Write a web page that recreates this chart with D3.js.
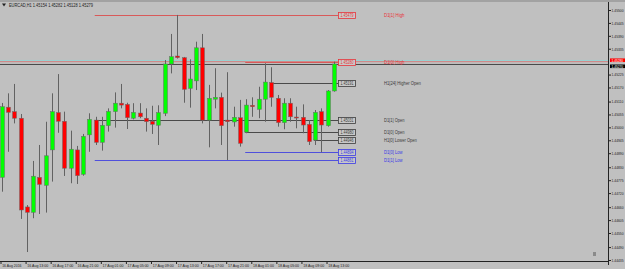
<!DOCTYPE html>
<html>
<head>
<meta charset="utf-8">
<script src="https://cdn.jsdelivr.net/npm/d3@7"></script>
<style>
body {margin:0; background:#c0c0c0;}
svg {display:block; font-family:"Liberation Sans", Arial, sans-serif;}
</style>
</head>
<body>
<div id="chart"></div>
<script>
//window size and plot box (price axis on the right, time axis at the bottom)
var W = 625, H = 269;
var plot = {l: 0, r: 608, t: 2, b: 261};

var title = "EURCAD,H1  1.45154 1.45282 1.45128 1.45279";

//H1 candles, 16 Aug 09:00 -> 18 Aug 14:00
var opens  = [1.44787,1.45086,1.45067,1.45039,1.44661,1.44638,1.44787,1.44753,1.44904,1.45063,
              1.45026,1.44826,1.44904,1.44800,1.44968,1.45031,1.44936,1.45007,1.45067,1.45103,
              1.45098,1.45039,1.45061,1.45039,1.45026,1.45009,1.45060,1.45270,1.45304,1.45297,
              1.45166,1.45198,1.45339,1.45031,1.45120,1.45128,1.45031,1.45023,1.45041,1.44980,
              1.45094,1.45077,1.45120,1.45191,1.45124,1.45020,1.45103,1.45044,1.45043,1.45013,
              1.44946,1.45067,1.45007,1.45155];
var highs  = [1.45104,1.45145,1.45185,1.45057,1.44669,1.44857,1.44925,1.45024,1.45145,1.45227,
              1.45067,1.44986,1.44921,1.44972,1.45060,1.45045,1.45045,1.45081,1.45149,1.45185,
              1.45105,1.45103,1.45103,1.45081,1.45092,1.45094,1.45287,1.45398,1.45479,1.45300,
              1.45290,1.45365,1.45398,1.45181,1.45252,1.45148,1.45235,1.45088,1.45117,1.45120,
              1.45128,1.45173,1.45273,1.45256,1.45138,1.45124,1.45124,1.45088,1.45098,1.45031,
              1.45074,1.45081,1.45159,1.45280];
var lows   = [1.44726,1.44896,1.45017,1.44610,1.44469,1.44613,1.44631,1.44637,1.44769,1.44977,
              1.44793,1.44762,1.44759,1.44794,1.44896,1.44925,1.44901,1.44982,1.44999,1.45081,
              1.44993,1.45034,1.45039,1.44982,1.44972,1.44925,1.45048,1.45230,1.45293,1.45105,
              1.45084,1.45159,1.45017,1.44915,1.45081,1.44925,1.44861,1.45003,1.44918,1.44975,
              1.45045,1.45039,1.45024,1.45088,1.45003,1.44992,1.45024,1.44996,1.44975,1.44925,
              1.44925,1.44894,1.45003,1.45152];
var closes = [1.45088,1.45064,1.45039,1.44648,1.44638,1.44792,1.44757,1.44879,1.45067,1.45026,
              1.44826,1.44907,1.44794,1.44962,1.45034,1.44936,1.45009,1.45068,1.45103,1.45095,
              1.45041,1.45064,1.45045,1.45024,1.45013,1.45063,1.45270,1.45301,1.45297,1.45162,
              1.45206,1.45339,1.45031,1.45124,1.45128,1.45007,1.45024,1.45043,1.44932,1.45095,
              1.45088,1.45120,1.45193,1.45128,1.45020,1.45103,1.45045,1.45042,1.45010,1.44939,
              1.45064,1.45010,1.45155,1.45270];

//time axis: one label every 4 bars
var timeLabels = ["16 Aug 2016","16 Aug 13:00","16 Aug 17:00","16 Aug 21:00","17 Aug 01:00",
                  "17 Aug 05:00","17 Aug 09:00","17 Aug 13:00","17 Aug 17:00","17 Aug 21:00",
                  "18 Aug 01:00","18 Aug 05:00","18 Aug 09:00","18 Aug 13:00"];

var priceTicks = [1.45500,1.45445,1.45390,1.45335,1.45225,1.45170,1.45110,1.45055,1.45000,
                  1.44945,1.44890,1.44830,1.44775,1.44720,1.44660,1.44605,1.44550,1.44490,1.44435];

//indicator levels
var levelNames  = ["D1[1] High","D1[0] High","H1[24] Higher Open","D1[1] Open","D1[0] Open",
                   "H1[0] Lower Open","D1[0] Low","D1[1] Low"];
var levelValues = [1.45479,1.45280,1.45191,1.45031,1.44980,1.44946,1.44894,1.44861];
var levelKinds  = ["high","high","open","open","open","open","low","low"];
var levelFrom   = [15,39,43,15,39,50,39,15];   //bar index where the level line starts

var kindColor = {high:"#e8343a", open:"#3c3c3c", low:"#3a3ae6"};
var kindLine  = {high:"#d85a5a", open:"#4a4a4a", low:"#5050dc"};

//the terminal font is much narrower than Liberation, so squeeze by char count
function squeeze(sel, perChar) {
    sel.attr("textLength", function(){ return this.textContent.length * perChar; })
       .attr("lengthAdjust", "spacingAndGlyphs");
}

var svg = d3.select("#chart").append("svg")
    .attr("width", W)
    .attr("height", H);

svg.append("rect").attr("width", W).attr("height", H).attr("fill", "#c0c0c0");
svg.append("rect").attr("width", W).attr("height", 2).attr("fill", "#a2a2a2");

var x = d3.scaleLinear().domain([0, opens.length - 1]).range([1.7, 334]);
var y = d3.scaleLinear().domain([1.44435, 1.45500]).range([260, 10]);

var bars = d3.range(opens.length).map(function(i){
    return {i: i, o: opens[i], h: highs[i], l: lows[i], c: closes[i]};
});
var last = bars[bars.length - 1];

//current price lines (drawn under the candles)
svg.append("line")
    .attr("x1", 0).attr("x2", plot.r)
    .attr("y1", y(levelValues[1]) - 1.2).attr("y2", y(levelValues[1]) - 1.2)
    .attr("stroke", "#8fd8d8").attr("stroke-width", 0.8);
svg.append("line")
    .attr("x1", 0).attr("x2", plot.r)
    .attr("y1", y(levelValues[1])).attr("y2", y(levelValues[1]))
    .attr("stroke", "#d87070").attr("stroke-width", 0.8);
svg.append("line")
    .attr("x1", 0).attr("x2", plot.r)
    .attr("y1", y(last.c) + 0.5).attr("y2", y(last.c) + 0.5)
    .attr("stroke", "#2a2a2a").attr("stroke-width", 0.8);

//level lines
var levels = svg.append("g").attr("class", "levels")
    .selectAll("g")
    .data(levelNames.map(function(n, k){
        return {name: n, v: levelValues[k], kind: levelKinds[k], from: levelFrom[k]};
    }))
    .enter().append("g");

levels.append("line")
    .attr("x1", function(d){ return x(d.from) - 1; })
    .attr("x2", 338)
    .attr("y1", function(d){ return Math.round(y(d.v)) + 0.5; })
    .attr("y2", function(d){ return Math.round(y(d.v)) + 0.5; })
    .attr("stroke", function(d){ return kindLine[d.kind]; })
    .attr("stroke-width", 1);

levels.append("rect")
    .attr("x", 338.5)
    .attr("y", function(d){ return Math.round(y(d.v)) - 2.5; })
    .attr("width", 17)
    .attr("height", 6)
    .attr("fill", "#c8c8c8")
    .attr("stroke", function(d){ return kindColor[d.kind]; })
    .attr("stroke-width", 0.8);

levels.append("text")
    .attr("x", 340.5)
    .attr("y", function(d){ return Math.round(y(d.v)) + 2.2; })
    .attr("font-size", "4.6px")
    .attr("fill", function(d){ return kindColor[d.kind]; })
    .text(function(d){ return d.v.toFixed(5); })
    .call(squeeze, 1.85);

levels.append("text")
    .attr("x", 384)
    .attr("y", function(d){ return Math.round(y(d.v)) + 2.2; })
    .attr("font-size", "5px")
    .attr("fill", function(d){ return kindColor[d.kind]; })
    .text(function(d){ return d.name; })
    .call(squeeze, 2.05);

//candles
var candles = svg.append("g").attr("class", "candles")
    .selectAll("g")
    .data(bars)
    .enter().append("g");

candles.append("line")
    .attr("x1", function(d){ return Math.round(x(d.i)) + 0.5; })
    .attr("x2", function(d){ return Math.round(x(d.i)) + 0.5; })
    .attr("y1", function(d){ return y(d.h); })
    .attr("y2", function(d){ return y(d.l); })
    .attr("stroke", "#626262")
    .attr("stroke-width", 1);

candles.append("rect")
    .attr("x", function(d){ return Math.round(x(d.i)) - 1.5; })
    .attr("y", function(d){ return y(Math.max(d.o, d.c)); })
    .attr("width", 4)
    .attr("height", function(d){ return Math.max(1, Math.abs(y(d.o) - y(d.c))); })
    .attr("fill", function(d){ return d.c >= d.o ? "#00ff00" : "#ff0000"; })
    .attr("stroke", "#6a6a6a")
    .attr("stroke-width", 0.5);

//price axis (labels narrowed with a scale so they stay inside the window)
var yAxis = svg.append("g")
    .attr("transform", "translate(" + plot.r + ",0)")
    .call(d3.axisRight(y).tickValues(priceTicks).tickSize(3).tickSizeOuter(0)
        .tickFormat(d3.format(".5f")));
yAxis.select(".domain").remove();
yAxis.selectAll(".tick line").attr("stroke", "#222");
yAxis.selectAll("text")
    .attr("x", 0)
    .attr("transform", "translate(3.5,0) scale(0.76,1)")
    .attr("font-size", "4.4px")
    .attr("fill", "#222");

svg.append("line")
    .attr("x1", plot.r + 0.5).attr("x2", plot.r + 0.5)
    .attr("y1", plot.t).attr("y2", plot.b + 4)
    .attr("stroke", "#222").attr("stroke-width", 1);

//time axis
var xAxis = svg.append("g")
    .attr("transform", "translate(0," + plot.b + ")")
    .call(d3.axisBottom(x).tickValues(d3.range(0, opens.length, 4)).tickSize(3).tickSizeOuter(0)
        .tickFormat(function(d, k){ return timeLabels[k]; }));
xAxis.select(".domain").remove();
xAxis.selectAll(".tick line")
    .attr("transform", "translate(-1.2,0)")
    .attr("stroke", "#222");
xAxis.selectAll("text")
    .attr("x", 0)
    .attr("dy", 0)
    .attr("y", 5.8)
    .attr("text-anchor", "start")
    .attr("font-size", "4.4px")
    .attr("fill", "#222")
    .call(squeeze, 1.75);

svg.append("line")
    .attr("x1", 0).attr("x2", plot.r + 1)
    .attr("y1", plot.b + 0.5).attr("y2", plot.b + 0.5)
    .attr("stroke", "#222").attr("stroke-width", 1);

//price labels on the axis: day high and last bid
svg.append("rect")
    .attr("x", plot.r + 2).attr("y", y(levelValues[1]) - 3.2)
    .attr("width", W - plot.r - 2).attr("height", 3.6)
    .attr("fill", "#ff0000");
svg.append("text")
    .attr("transform", "translate(" + (plot.r + 3.5) + "," + (y(levelValues[1]) - 0.1) + ") scale(0.76,1)")
    .attr("font-size", "4.2px").attr("fill", "#fff")
    .text(levelValues[1].toFixed(5));
svg.append("rect")
    .attr("x", plot.r + 2).attr("y", y(last.c) + 0.5)
    .attr("width", W - plot.r - 2).attr("height", 3.6)
    .attr("fill", "#000");
svg.append("text")
    .attr("transform", "translate(" + (plot.r + 3.5) + "," + (y(last.c) + 3.6) + ") scale(0.76,1)")
    .attr("font-size", "4.2px").attr("fill", "#fff")
    .text(last.c.toFixed(5));

//title
svg.append("path")
    .attr("d", "M2,3.5 L6,3.5 L4,6.5 Z")
    .attr("fill", "#222");
svg.append("text")
    .attr("x", 9).attr("y", 6.6)
    .attr("font-size", "4.6px")
    .attr("fill", "#222")
    .text(title)
    .call(squeeze, 2.0);

//chart shift marker
svg.append("rect")
    .attr("x", 593).attr("y", 252).attr("width", 3).attr("height", 4)
    .attr("fill", "#8a8a8a");
</script>
</body>
</html>
